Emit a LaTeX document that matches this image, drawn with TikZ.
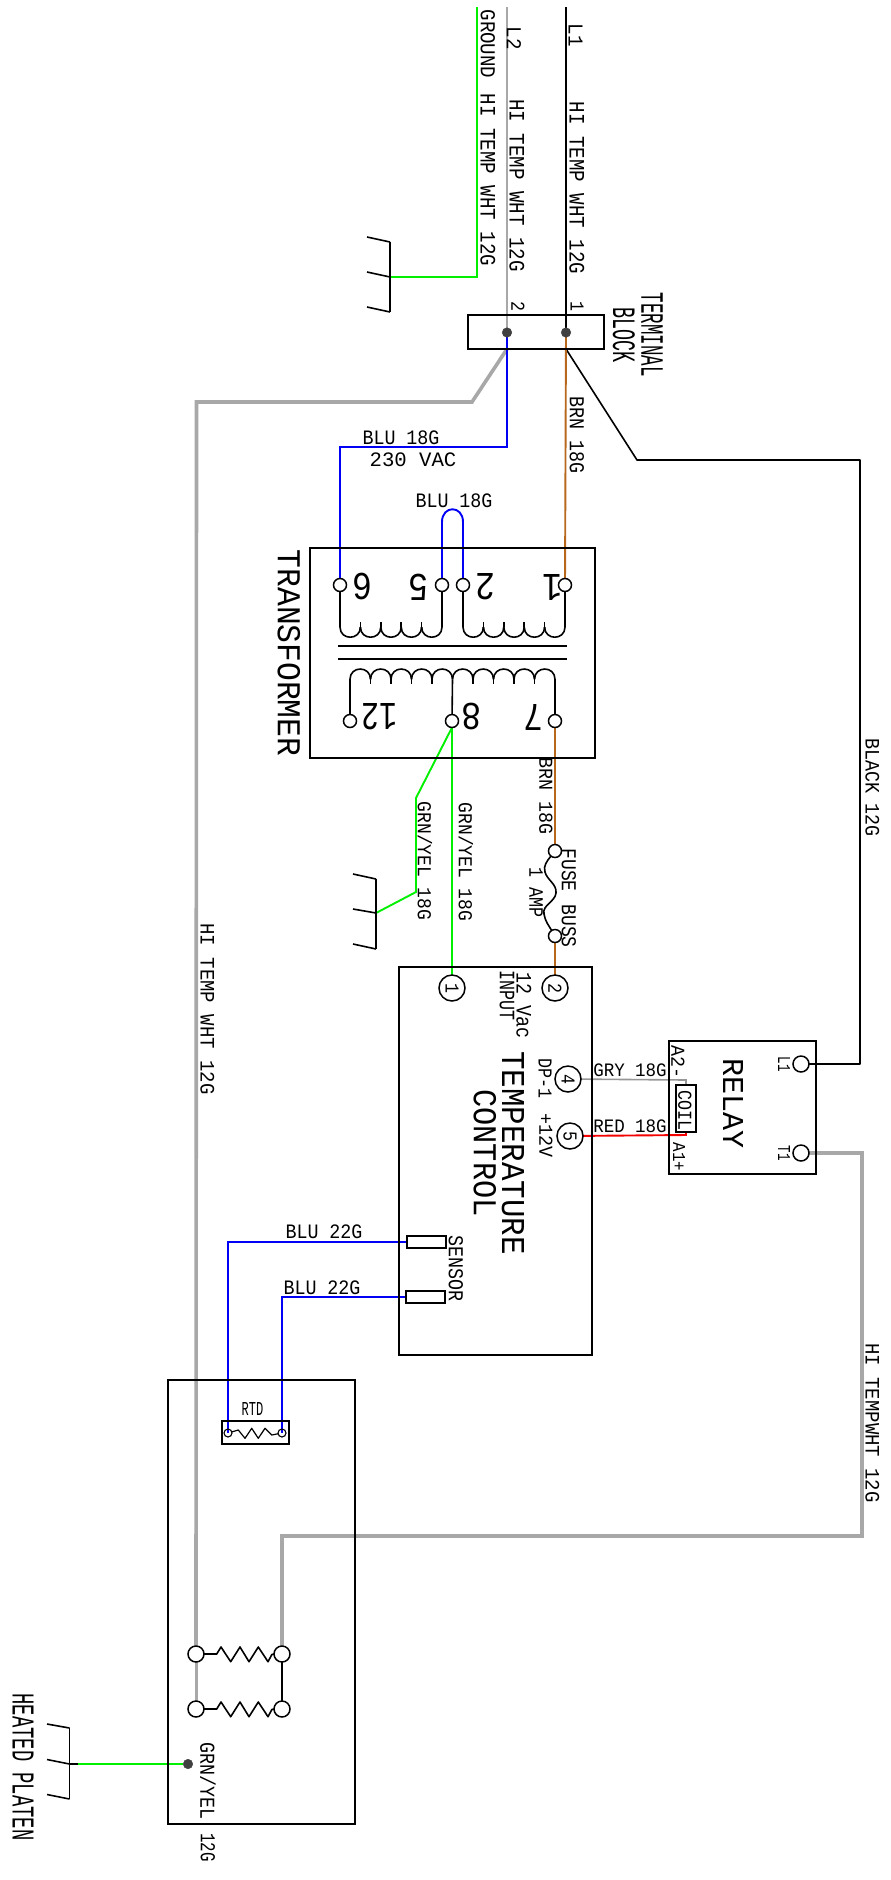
\documentclass[tikz,border=0pt]{standalone}
\usepackage{fontspec}
\usepackage{graphicx}
\usetikzlibrary{backgrounds}
\newfontfamily\cadfont{Liberation Mono}
% cap height, advance, text
\newcommand{\cadt}[3]{\pgfmathsetmacro\cadfs{#1/0.659}\pgfmathsetmacro\cadxs{1.098*#2/#1}\scalebox{\cadxs}[1]{\fontsize{\cadfs pt}{\cadfs pt}\selectfont\cadfont #3}}
\definecolor{wgreen}{RGB}{0,240,0}
\definecolor{wblue}{RGB}{0,0,245}
\definecolor{wbrown}{RGB}{184,104,28}
\definecolor{wred}{RGB}{245,0,0}
\definecolor{wgray}{RGB}{168,168,168}
\definecolor{wgry}{RGB}{150,150,150}
\tikzset{
  lab/.style={inner sep=0pt,outer sep=0pt,text depth=0pt,rotate=-90},
  hlab/.style={inner sep=0pt,outer sep=0pt,text depth=0pt},
  flab/.style={inner sep=0pt,outer sep=0pt,text depth=0pt,rotate=180},
  boxn/.style={draw=black,line width=1.6pt,inner sep=0pt,outer sep=0pt},
  term/.style={circle,draw=black,fill=white,line width=1.5pt,inner sep=0pt,outer sep=0pt,minimum size=13pt},
  bigterm/.style={term,minimum size=16pt},
  tinyterm/.style={circle,draw=black,line width=1.1pt,inner sep=0pt,outer sep=0pt,minimum size=8pt},
  numterm/.style={term,minimum size=26pt,rotate=-90},
  dotn/.style={circle,draw=black!75,fill=black!75,line width=.5pt,inner sep=0pt,outer sep=0pt,minimum size=9.5pt},
  ink/.style={draw=black,line width=1.6pt,line join=round},
  greenw/.style={draw=wgreen,line width=1.9pt},
  bluew/.style={draw=wblue,line width=1.9pt},
  brownw/.style={draw=wbrown,line width=1.9pt},
  redw/.style={draw=wred,line width=1.9pt},
  grayw/.style={draw=wgray,line width=3.6pt},
  thingray/.style={draw=wgray,line width=2pt},
  gryw/.style={draw=wgry,line width=1.6pt},
}
\begin{document}
\begin{tikzpicture}[x=1pt,y=-1pt]
\useasboundingbox (0,0) rectangle (891,1880);
% boxes
\node[boxn,minimum width=136pt,minimum height=34pt] (tblock) at (536,332) {};
\node[boxn,minimum width=285pt,minimum height=210pt] (xfmr) at (452.5,653) {};
\node[boxn,minimum width=193pt,minimum height=388pt] (ctrl) at (495.5,1161) {};
\node[boxn,minimum width=147pt,minimum height=133pt] (relay) at (742.5,1107.5) {};
\node[boxn,minimum width=20pt,minimum height=47pt] (coil) at (686,1108.5) {};
\node[boxn,minimum width=39pt,minimum height=12pt] (sens1) at (426.5,1242) {};
\node[boxn,minimum width=39pt,minimum height=12pt] (sens2) at (425.5,1297) {};
\node[boxn,minimum width=187pt,minimum height=444pt] (platen) at (261.5,1602) {};
\node[boxn,minimum width=67pt,minimum height=23pt] (rtdbox) at (255.5,1432.5) {};
% terminals
\node[dotn] (tb1) at (566,332.5) {};
\node[dotn] (tb2) at (507,332.5) {};
\node[term] (x6) at (340,585) {};
\node[term] (x5) at (442,585) {};
\node[term] (x2) at (463,585) {};
\node[term] (x1) at (565,585) {};
\node[term] (x12) at (350,721) {};
\node[term] (x8) at (452,721) {};
\node[term] (x7) at (555,721) {};
\node[term] (fa) at (555,851) {};
\node[term] (fb) at (555,936) {};
\node[numterm] (c1) at (452,988) {\cadt{13}{10}{1}};
\node[numterm] (c2) at (555,988) {\cadt{13}{10}{2}};
\node[numterm] (c4) at (568,1079) {\cadt{13}{10}{4}};
\node[numterm] (c5) at (570,1136) {\cadt{13}{10}{5}};
\node[bigterm] (rl1) at (801,1064) {};
\node[bigterm] (rt1) at (801,1153) {};
\node[tinyterm] (ra) at (228,1433) {};
\node[tinyterm] (rb) at (282,1433) {};
\node[bigterm] (h1a) at (196,1654) {};
\node[bigterm] (h1b) at (282,1654) {};
\node[bigterm] (h2a) at (196,1709) {};
\node[bigterm] (h2b) at (282,1709) {};
\node[dotn] (pdot) at (188,1764) {};
% named bends
\coordinate (l1top) at (566,7);
\coordinate (l2top) at (507,7);
\coordinate (gtop) at (477,7);
\coordinate (gb) at (477,277);
\coordinate (g1m) at (390,277);
\coordinate (g1t) at (390,242);
\coordinate (g1e) at (390,312);
\coordinate (g1ta) at (367,237);
\coordinate (g1tb) at (367,272);
\coordinate (g1tc) at (367,307);
\coordinate (tbs1) at (566,349);
\coordinate (tbs2) at (507,349);
\coordinate (bk1) at (637,460);
\coordinate (bk2) at (860,460);
\coordinate (bk3) at (860,1064);
\coordinate (gy1) at (472,402);
\coordinate (gy2) at (196.5,402);
\coordinate (gy3) at (862,1153);
\coordinate (gy4) at (862,1536);
\coordinate (gy5) at (282,1536);
\coordinate (bl1) at (507,447);
\coordinate (bl2) at (340,447);
\coordinate (g8a) at (416,798);
\coordinate (g8b) at (416,892);
\coordinate (g2m) at (376,913);
\coordinate (g2t) at (376,879);
\coordinate (g2e) at (376,949);
\coordinate (g2ta) at (353,874);
\coordinate (g2tb) at (353,909);
\coordinate (g2tc) at (353,944);
\coordinate (gc1) at (686,1080);
\coordinate (rc1) at (686,1135);
\coordinate (s1b) at (228,1242);
\coordinate (s2b) at (282,1297);
\coordinate (g3s) at (78,1764);
\coordinate (g3m) at (69.5,1764);
\coordinate (g3t) at (69.5,1728);
\coordinate (g3e) at (69.5,1799);
\coordinate (g3ta) at (47,1724);
\coordinate (g3tb) at (47,1759.5);
\coordinate (g3tc) at (47,1794.5);
\begin{scope}[on background layer]
% supply wires
\draw[thingray] (l2top) -- (tb2.center);
\draw[draw=black,line width=2pt] (l1top) -- (tb1.center);
\draw[greenw] (gtop) -- (gb) -- (g1m);
% platen/heater gray
\draw[grayw,line join=miter] (tbs2) -- (gy1) -- (gy2) -- (h1a);
\draw[thingray,line width=3pt] (h1a) -- (h2a);
\draw[grayw,line join=miter] (rt1) -- (gy3) -- (gy4) -- (gy5) -- (h1b);
% black
\draw[ink] (tbs1) -- (bk1) -- (bk2) -- (bk3) -- (rl1);
\draw[ink] (h1b) -- (h2b);
% brown
\draw[brownw] (tb1.center) -- (x1);
\draw[brownw] (x7) -- (fa);
\draw[brownw] (fb) -- (c2);
% blue
\draw[bluew] (tb2.center) -- (bl1) -- (bl2) -- (x6);
\draw[bluew] (x5) -- (442,522) .. controls (442,505) and (463,505) .. (463,522) -- (x2);
\draw[bluew] (sens1.west) -- (s1b) -- (ra.center);
\draw[bluew] (sens2.west) -- (s2b) -- (rb.center);
% green
\draw[greenw] (x8) -- (c1);
\draw[greenw,line join=miter] (x8.south) -- (g8a) -- (g8b) -- (g2m);
\draw[greenw] (pdot) -- (g3s);
% control
\draw[gryw] (c4) -- (gc1) -- (coil.north);
\draw[redw] (c5) -- (rc1) -- (coil.south);
\end{scope}
% ground symbols
\draw[ink] (g1t) -- (g1e);
\draw[ink] (g1ta) -- (g1t);
\draw[ink] (g1tb) -- (g1m);
\draw[ink] (g1tc) -- (g1e);
\draw[ink] (g2t) -- (g2e);
\draw[ink] (g2ta) -- (g2t);
\draw[ink] (g2tb) -- (g2m);
\draw[ink] (g2tc) -- (g2e);
\draw[ink] (g3t) -- (g3e);
\draw[ink] (g3ta) -- (g3t);
\draw[ink] (g3tb) -- (g3m);
\draw[ink] (g3tc) -- (g3e);
\draw[ink] (g3m) -- (g3s);
% primary windings
\draw[ink] (x6) -- (340,627);
\draw[ink] (x5) -- (442,627);
\draw[ink] (x2) -- (463,627);
\draw[ink] (x1) -- (565,627);
\foreach \a/\b in {340/360.4,360.4/380.8,380.8/401.2,401.2/421.6,421.6/442,463/483.4,483.4/503.8,503.8/524.2,524.2/544.6,544.6/565}
  \draw[ink] (\a,627) .. controls (\a,640.6) and (\b,640.6) .. (\b,627);
\foreach \a in {360.4,380.8,401.2,421.6,483.4,503.8,524.2,544.6}
  \draw[ink] (\a,622) -- (\a,627);
% core
\draw[ink] (338,646) -- (567,646);
\draw[ink] (338,659) -- (567,659);
% secondary winding
\draw[ink] (x12) -- (350,679.3);
\draw[ink] (x7) -- (555,679.3);
\draw[ink] (x8) -- (452.5,679.3);
\foreach \a/\b in {350/370.5,370.5/391,391/411.5,411.5/432,432/452.5,452.5/473,473/493.5,493.5/514,514/534.5,534.5/555}
  \draw[ink] (\a,679.3) .. controls (\a,665.6) and (\b,665.6) .. (\b,679.3);
\foreach \a in {370.5,391,411.5,432,473,493.5,514,534.5}
  \draw[ink] (\a,679.3) -- (\a,684);
% fuse
\draw[ink] (fa) .. controls (547,861) and (543,866) .. (545,872) .. controls (547,880) and (557,884) .. (556,893) .. controls (555,902) and (542,905) .. (544,914) .. controls (545,921) and (549,926) .. (fb);
% RTD element
\draw[draw=black,line width=1.2pt,line join=round] (ra) -- (238.3,1430) -- (245,1438.3) -- (251.7,1428.3) -- (258.3,1438.3) -- (265,1428.3) -- (271.7,1435) -- (rb);
% heaters
\draw[ink] (h1a) -- (212,1654) -- (216.7,1654) -- (221,1647) -- (230.7,1661.7) -- (240,1647) -- (249,1661.7) -- (258.3,1647) -- (268,1661.7) -- (272,1654.3) -- (h1b);
\draw[ink] (h2a) -- (212,1709) -- (216.7,1709) -- (221,1702) -- (230.7,1716.7) -- (240,1702) -- (249,1716.7) -- (258.3,1702) -- (268,1716.7) -- (272,1709.3) -- (h2b);
% labels
\node[lab] (tL1) at (575.5,35) {\cadt{14}{11.5}{L1}};
\node[lab] (tL2) at (514,38) {\cadt{14}{11.5}{L2}};
\node[lab] (tGnd) at (488,44) {\cadt{14}{11.5}{GROUND}};
\node[lab] (tH1) at (577,188) {\cadt{14.5}{11.5}{HI TEMP WHT 12G}};
\node[lab] (tH2) at (517,185.5) {\cadt{14.5}{11.5}{HI TEMP WHT 12G}};
\node[lab] (tH3) at (488,180) {\cadt{14.5}{11.5}{HI TEMP WHT 12G}};
\node[lab] (t2) at (518,306) {\cadt{13}{10}{2}};
\node[lab] (t1) at (577,306) {\cadt{13}{10}{1}};
\node[lab] (tTerm) at (652,334.7) {\cadt{21.5}{10.5}{TERMINAL}};
\node[lab] (tBlock) at (624,335) {\cadt{21.5}{11}{BLOCK}};
\node[lab] (tBrn1) at (577,435) {\cadt{14}{11}{BRN 18G}};
\node[hlab] (tBlu1) at (401,438) {\cadt{13.5}{11}{BLU 18G}};
\node[hlab] (tVac) at (413,460) {\cadt{13.5}{12.4}{230 VAC}};
\node[hlab] (tBlu2) at (454,501) {\cadt{13.5}{11}{BLU 18G}};
\node[flab] (n6) at (362,587) {\cadt{26}{20}{6}};
\node[flab] (n5) at (418,587) {\cadt{26}{20}{5}};
\node[flab] (n2) at (485,587) {\cadt{26}{20}{2}};
\node[flab] (n1) at (552,587) {\cadt{26}{20}{1}};
\node[flab] (n12) at (379,717) {\cadt{26}{18}{12}};
\node[flab] (n8) at (471,717) {\cadt{26}{20}{8}};
\node[flab] (n7) at (533,717) {\cadt{26}{20}{7}};
\node[lab] (tXf) at (289,653) {\cadt{22}{18.8}{TRANSFORMER}};
\node[lab] (tBrn2) at (546,796) {\cadt{13}{11}{BRN 18G}};
\node[lab] (tGy1) at (425,861) {\cadt{13}{10.8}{GRN/YEL 18G}};
\node[lab] (tGy2) at (466,862) {\cadt{13}{10.8}{GRN/YEL 18G}};
\node[lab] (tFuse) at (569,870) {\cadt{14}{10.8}{FUSE}};
\node[lab] (tBuss) at (569,926) {\cadt{14}{10.8}{BUSS}};
\node[lab] (tAmp) at (536,892) {\cadt{13.5}{10}{1 AMP}};
\node[lab] (t12v) at (524,1005) {\cadt{14.5}{11}{12 Vac}};
\node[lab] (tInput) at (507,995) {\cadt{14.5}{10}{INPUT}};
\node[lab] (tTemp) at (513,1153) {\cadt{22}{18.5}{TEMPERATURE}};
\node[lab] (tCtrl) at (485,1153) {\cadt{22}{18.2}{CONTROL}};
\node[lab] (tDp) at (545,1078) {\cadt{13}{10}{DP-1}};
\node[lab] (tP12) at (546,1135) {\cadt{13}{11}{+12V}};
\node[hlab] (tGry) at (630,1070) {\cadt{12.5}{10.5}{GRY 18G}};
\node[hlab] (tRed) at (630,1126) {\cadt{12.5}{10.5}{RED 18G}};
\node[lab] (tCoil) at (685,1110) {\cadt{13}{10}{COIL}};
\node[lab] (tA2) at (678,1062) {\cadt{13}{11}{A2-}};
\node[lab] (tA1) at (679,1157) {\cadt{12}{9.5}{A1+}};
\node[lab] (tRelay) at (733,1103) {\cadt{20}{18}{RELAY}};
\node[lab] (tL1r) at (784,1064) {\cadt{12}{7.5}{L1}};
\node[lab] (tT1r) at (784,1153) {\cadt{12}{7.5}{T1}};
\node[lab] (tBlack) at (872.5,787.5) {\cadt{13.5}{11}{BLACK 12G}};
\node[lab] (tHw) at (872.5,1423) {\cadt{13.5}{11.4}{HI TEMPWHT 12G}};
\node[lab] (tHl) at (207.5,1009) {\cadt{13.5}{11.4}{HI TEMP WHT 12G}};
\node[lab] (tSens) at (456,1268) {\cadt{14}{11}{SENSOR}};
\node[hlab] (tB22a) at (324,1232) {\cadt{13.5}{11}{BLU 22G}};
\node[hlab] (tB22b) at (322,1288) {\cadt{13.5}{11}{BLU 22G}};
\node[hlab] (tRtd) at (252.5,1409) {\cadt{13}{7.2}{RTD}};
\node[lab] (tGyp) at (208,1781) {\cadt{14}{11}{GRN/YEL}};
\node[lab] (t12g) at (208,1847.5) {\cadt{14}{9.5}{12G}};
\node[lab] (tPlaten) at (23,1767) {\cadt{21}{11.3}{HEATED PLATEN}};
\end{tikzpicture}
\end{document}
